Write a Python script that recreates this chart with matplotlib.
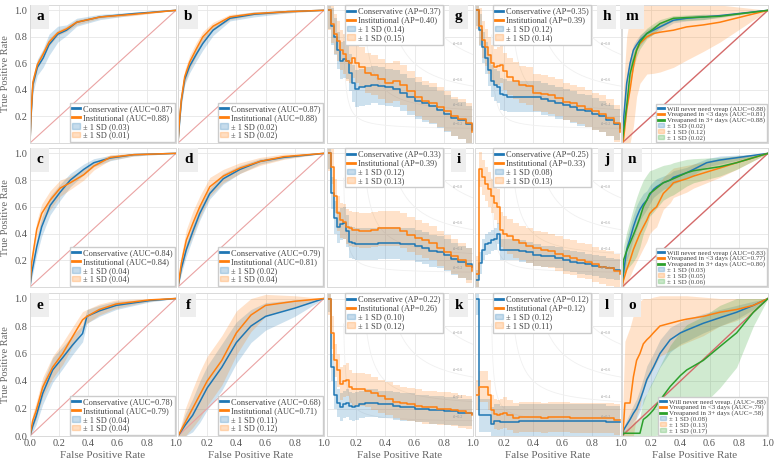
import numpy as np
import matplotlib.pyplot as plt
from matplotlib.lines import Line2D
from matplotlib.patches import Patch

plt.rcParams['font.family'] = ['Liberation Serif', 'DejaVu Serif']

BLUE = '#1f77b4'
ORANGE = '#ff7f0e'
GREEN = '#2ca02c'

# ---------- ROC panels a-f (two models) ----------
fpr_a = [0, 0.007, 0.02, 0.05, 0.09, 0.13, 0.19, 0.25, 0.32, 0.48, 0.71, 1.0]
cons_a = [0, 0.20, 0.44, 0.57, 0.64, 0.74, 0.82, 0.85, 0.91, 0.95, 0.975, 1.0]
inst_a = [0, 0.22, 0.46, 0.59, 0.67, 0.76, 0.83, 0.86, 0.91, 0.95, 0.97, 1.0]
cons_sd_a = [0, 0.04, 0.06, 0.06, 0.07, 0.08, 0.06, 0.04, 0.03, 0.02, 0.01, 0]
inst_sd_a = [0, 0.03, 0.04, 0.03, 0.03, 0.03, 0.02, 0.02, 0.02, 0.01, 0.01, 0]

fpr_b = [0, 0.01, 0.023, 0.046, 0.08, 0.126, 0.17, 0.24, 0.356, 0.52, 0.75, 1.0]
cons_b = [0, 0.15, 0.32, 0.48, 0.58, 0.67, 0.75, 0.85, 0.94, 0.97, 0.99, 1.0]
inst_b = [0, 0.17, 0.33, 0.50, 0.61, 0.71, 0.80, 0.88, 0.95, 0.975, 0.99, 1.0]
cons_sd_b = [0, 0.03, 0.04, 0.04, 0.05, 0.05, 0.05, 0.04, 0.02, 0.02, 0.01, 0]
inst_sd_b = [0, 0.03, 0.04, 0.05, 0.05, 0.05, 0.04, 0.03, 0.02, 0.01, 0.01, 0]

fpr_c = [0, 0.011, 0.046, 0.08, 0.138, 0.207, 0.276, 0.368, 0.437, 0.55, 0.71, 1.0]
cons_c = [0, 0.10, 0.30, 0.45, 0.61, 0.71, 0.80, 0.88, 0.93, 0.965, 0.99, 1.0]
inst_c = [0, 0.18, 0.43, 0.55, 0.65, 0.74, 0.78, 0.84, 0.905, 0.97, 0.99, 1.0]
cons_sd_c = [0, 0.04, 0.06, 0.07, 0.07, 0.06, 0.05, 0.04, 0.03, 0.02, 0.01, 0]
inst_sd_c = [0, 0.05, 0.06, 0.07, 0.07, 0.06, 0.05, 0.04, 0.03, 0.02, 0.01, 0]

fpr_d = [0, 0.023, 0.057, 0.103, 0.149, 0.218, 0.31, 0.425, 0.563, 0.724, 1.0]
cons_d = [0, 0.14, 0.28, 0.42, 0.55, 0.70, 0.81, 0.88, 0.94, 0.97, 1.0]
inst_d = [0, 0.18, 0.35, 0.48, 0.60, 0.75, 0.83, 0.89, 0.94, 0.975, 1.0]
cons_sd_d = [0, 0.04, 0.05, 0.05, 0.05, 0.04, 0.04, 0.03, 0.02, 0.01, 0]
inst_sd_d = [0, 0.06, 0.08, 0.09, 0.08, 0.07, 0.05, 0.04, 0.03, 0.02, 0]

fpr_e = [0, 0.018, 0.041, 0.087, 0.155, 0.224, 0.29, 0.36, 0.39, 0.475, 0.59, 0.82, 1.0]
cons_e = [0, 0.07, 0.14, 0.31, 0.48, 0.57, 0.66, 0.745, 0.87, 0.91, 0.95, 0.985, 1.0]
inst_e = [0, 0.11, 0.18, 0.355, 0.50, 0.60, 0.72, 0.845, 0.87, 0.92, 0.96, 0.99, 1.0]
cons_sd_e = [0, 0.04, 0.06, 0.08, 0.09, 0.08, 0.07, 0.06, 0.05, 0.04, 0.03, 0.01, 0]
inst_sd_e = [0, 0.05, 0.06, 0.07, 0.08, 0.08, 0.07, 0.06, 0.05, 0.04, 0.03, 0.01, 0]

fpr_f = [0, 0.05, 0.10, 0.15, 0.20, 0.30, 0.40, 0.50, 0.60, 0.80, 1.0]
cons_f = [0, 0.08, 0.15, 0.25, 0.35, 0.50, 0.68, 0.80, 0.87, 0.93, 1.0]
inst_f = [0, 0.10, 0.20, 0.30, 0.40, 0.55, 0.75, 0.88, 0.95, 0.98, 1.0]
cons_sd_f = [0, 0.08, 0.12, 0.15, 0.16, 0.17, 0.15, 0.12, 0.10, 0.06, 0]
inst_sd_f = [0, 0.10, 0.14, 0.17, 0.18, 0.18, 0.16, 0.12, 0.08, 0.04, 0]

roc_auc = {'a': (0.87, 0.88), 'b': (0.87, 0.88), 'c': (0.84, 0.84),
           'd': (0.79, 0.81), 'e': (0.78, 0.79), 'f': (0.68, 0.71)}
roc_sd = {'a': (0.03, 0.01), 'b': (0.02, 0.02), 'c': (0.04, 0.04),
          'd': (0.02, 0.04), 'e': (0.04, 0.04), 'f': (0.11, 0.12)}

# ---------- precision-recall style panels g-l ----------
pr_x = [0.01, 0.03, 0.05, 0.07, 0.09, 0.11, 0.13, 0.15, 0.17, 0.19, 0.22, 0.26, 0.30, 0.35,
        0.40, 0.45, 0.50, 0.55, 0.60, 0.65, 0.70, 0.75, 0.80, 0.85, 0.90, 0.95, 0.99]

cons_g = [1.0, 0.88, 0.80, 0.70, 0.62, 0.63, 0.62, 0.53, 0.45, 0.41, 0.42, 0.43, 0.44, 0.43,
          0.42, 0.41, 0.38, 0.35, 0.32, 0.30, 0.28, 0.25, 0.22, 0.19, 0.17, 0.14, 0.10]
inst_g = [1.0, 0.90, 0.82, 0.77, 0.70, 0.67, 0.62, 0.60, 0.64, 0.60, 0.57, 0.53, 0.51, 0.48,
          0.45, 0.47, 0.44, 0.39, 0.35, 0.32, 0.30, 0.27, 0.24, 0.20, 0.18, 0.15, 0.08]

cons_h = [1.0, 0.85, 0.72, 0.64, 0.55, 0.47, 0.44, 0.42, 0.37, 0.36, 0.35, 0.35, 0.35, 0.35,
          0.35, 0.33, 0.32, 0.30, 0.29, 0.27, 0.25, 0.24, 0.22, 0.20, 0.17, 0.14, 0.11]
inst_h = [1.0, 0.88, 0.78, 0.72, 0.66, 0.60, 0.57, 0.58, 0.59, 0.54, 0.50, 0.47, 0.44, 0.43,
          0.38, 0.37, 0.36, 0.34, 0.31, 0.30, 0.28, 0.26, 0.24, 0.22, 0.19, 0.15, 0.08]

cons_i = [1.0, 0.70, 0.52, 0.45, 0.47, 0.48, 0.42, 0.34, 0.33, 0.32, 0.32, 0.32, 0.32, 0.33,
          0.33, 0.33, 0.32, 0.32, 0.31, 0.29, 0.27, 0.26, 0.24, 0.21, 0.19, 0.17, 0.15]
inst_i = [1.0, 0.90, 0.68, 0.55, 0.50, 0.49, 0.45, 0.44, 0.43, 0.43, 0.42, 0.42, 0.43, 0.44,
          0.44, 0.44, 0.42, 0.39, 0.37, 0.35, 0.33, 0.29, 0.26, 0.23, 0.20, 0.16, 0.12]

cons_j = [0.05, 0.18, 0.28, 0.32, 0.33, 0.35, 0.36, 0.40, 0.28, 0.28, 0.28, 0.28, 0.27, 0.26,
          0.24, 0.23, 0.23, 0.22, 0.20, 0.19, 0.18, 0.17, 0.16, 0.15, 0.14, 0.13, 0.12]
inst_j = [0.10, 0.88, 0.82, 0.77, 0.73, 0.68, 0.63, 0.60, 0.43, 0.40, 0.38, 0.35, 0.33, 0.31,
          0.29, 0.28, 0.27, 0.25, 0.23, 0.22, 0.20, 0.19, 0.17, 0.15, 0.14, 0.12, 0.10]

cons_k = [1.0, 0.50, 0.30, 0.24, 0.21, 0.23, 0.24, 0.22, 0.21, 0.22, 0.23, 0.24, 0.24, 0.23,
          0.23, 0.22, 0.21, 0.21, 0.20, 0.20, 0.19, 0.19, 0.18, 0.18, 0.17, 0.17, 0.16]
inst_k = [1.0, 0.75, 0.55, 0.48, 0.38, 0.40, 0.41, 0.36, 0.34, 0.34, 0.34, 0.33, 0.31, 0.29,
          0.27, 0.25, 0.24, 0.23, 0.22, 0.21, 0.21, 0.20, 0.20, 0.19, 0.18, 0.17, 0.15]

cons_l = [1.0, 0.15, 0.15, 0.15, 0.15, 0.09, 0.11, 0.11, 0.10, 0.10, 0.10, 0.10, 0.11, 0.11,
          0.11, 0.11, 0.11, 0.11, 0.11, 0.11, 0.11, 0.11, 0.11, 0.11, 0.10, 0.10, 0.10]
inst_l = [0.30, 0.36, 0.36, 0.36, 0.30, 0.19, 0.16, 0.15, 0.16, 0.17, 0.15, 0.13, 0.14, 0.14,
          0.14, 0.13, 0.14, 0.14, 0.14, 0.13, 0.13, 0.13, 0.13, 0.13, 0.13, 0.12, 0.12]

pr_ap = {'g': (0.37, 0.40), 'h': (0.35, 0.39), 'i': (0.33, 0.39),
         'j': (0.25, 0.33), 'k': (0.22, 0.26), 'l': (0.12, 0.12)}
pr_sd = {'g': (0.14, 0.15), 'h': (0.12, 0.14), 'i': (0.12, 0.13),
         'j': (0.08, 0.13), 'k': (0.10, 0.12), 'l': (0.12, 0.11)}
iso_f1 = [0.2, 0.4, 0.6, 0.8]

# ---------- three-class ROC panels m-o ----------
fpr_m = [0, 0.01, 0.032, 0.055, 0.078, 0.10, 0.123, 0.17, 0.215, 0.26, 0.352, 0.443, 0.557, 0.67, 1.0]
never_m = [0, 0.17, 0.45, 0.60, 0.70, 0.74, 0.775, 0.825, 0.85, 0.875, 0.925, 0.94, 0.95, 0.96, 1.0]
early_m = [0, 0.02, 0.25, 0.40, 0.575, 0.70, 0.75, 0.80, 0.825, 0.835, 0.85, 0.875, 0.89, 0.91, 1.0]
late_m = [0, 0.08, 0.28, 0.52, 0.62, 0.70, 0.76, 0.825, 0.86, 0.90, 0.94, 0.945, 0.95, 0.955, 1.0]
never_sd_m = [0, 0.03, 0.04, 0.04, 0.04, 0.04, 0.04, 0.03, 0.03, 0.03, 0.02, 0.02, 0.02, 0.01, 0]
early_sd_m = [0, 0.40, 0.55, 0.55, 0.45, 0.35, 0.30, 0.28, 0.30, 0.30, 0.28, 0.25, 0.20, 0.15, 0]
late_sd_m = [0, 0.04, 0.06, 0.07, 0.06, 0.05, 0.05, 0.04, 0.04, 0.03, 0.02, 0.02, 0.02, 0.01, 0]

fpr_n = [0, 0.01, 0.032, 0.055, 0.078, 0.10, 0.123, 0.146, 0.17, 0.19, 0.215, 0.237, 0.283,
         0.33, 0.352, 0.443, 0.49, 0.58, 0.67, 0.785, 1.0]
never_n = [0, 0.10, 0.28, 0.36, 0.45, 0.52, 0.58, 0.62, 0.65, 0.69, 0.73, 0.75, 0.78,
           0.80, 0.82, 0.855, 0.88, 0.93, 0.95, 0.967, 1.0]
early_n = [0, 0.05, 0.13, 0.20, 0.28, 0.34, 0.40, 0.45, 0.50, 0.55, 0.58, 0.60, 0.70,
           0.75, 0.78, 0.81, 0.83, 0.86, 0.89, 0.93, 1.0]
late_n = [0, 0.20, 0.27, 0.33, 0.39, 0.45, 0.52, 0.60, 0.65, 0.70, 0.72, 0.74, 0.78,
          0.80, 0.81, 0.855, 0.87, 0.885, 0.90, 0.93, 1.0]
never_sd_n = [0, 0.05, 0.08, 0.09, 0.09, 0.09, 0.08, 0.08, 0.07, 0.07, 0.06, 0.06, 0.05,
              0.05, 0.05, 0.04, 0.04, 0.03, 0.03, 0.02, 0]
early_sd_n = [0, 0.05, 0.10, 0.12, 0.14, 0.15, 0.16, 0.16, 0.16, 0.15, 0.15, 0.15, 0.12,
              0.12, 0.11, 0.10, 0.09, 0.08, 0.07, 0.05, 0]
late_sd_n = [0, 0.10, 0.14, 0.17, 0.20, 0.22, 0.22, 0.20, 0.19, 0.17, 0.16, 0.15, 0.13,
             0.12, 0.12, 0.10, 0.09, 0.08, 0.07, 0.05, 0]

fpr_o = [0, 0.01, 0.02, 0.055, 0.078, 0.10, 0.123, 0.146, 0.17, 0.19, 0.215, 0.26, 0.33, 0.40,
         0.443, 0.557, 0.67, 0.785, 0.90, 1.0]
never_o = [0, 0.04, 0.06, 0.12, 0.165, 0.20, 0.26, 0.33, 0.41, 0.45, 0.50, 0.60, 0.70, 0.75,
           0.77, 0.82, 0.86, 0.90, 0.95, 1.0]
early_o = [0, 0.07, 0.24, 0.24, 0.43, 0.55, 0.60, 0.67, 0.70, 0.72, 0.75, 0.80, 0.82, 0.84,
           0.85, 0.87, 0.90, 0.92, 0.95, 1.0]
late_o = [0, 0.02, 0.02, 0.02, 0.02, 0.02, 0.02, 0.12, 0.14, 0.16, 0.19, 0.26, 0.36, 0.44,
          0.48, 0.55, 0.65, 0.75, 0.90, 1.0]
never_sd_o = [0, 0.02, 0.03, 0.05, 0.06, 0.07, 0.08, 0.09, 0.10, 0.10, 0.10, 0.10, 0.09, 0.08,
              0.08, 0.07, 0.06, 0.05, 0.03, 0]
early_sd_o = [0, 0.30, 0.45, 0.55, 0.45, 0.40, 0.38, 0.33, 0.30, 0.28, 0.26, 0.22, 0.20, 0.18,
              0.17, 0.14, 0.10, 0.08, 0.05, 0]
late_sd_o = [0, 0.02, 0.02, 0.05, 0.08, 0.10, 0.12, 0.15, 0.17, 0.20, 0.22, 0.25, 0.30, 0.32,
             0.33, 0.32, 0.30, 0.25, 0.10, 0]

multi_names = {
    'm': ['Will never need vreap (AUC=0.88)', 'Vreapaned in <3 days (AUC=0.81)',
          'Vreapaned in 3+ days (AUC=0.88)'],
    'n': ['Will never need vreap (AUC=0.83)', 'Vreapaned in <3 days (AUC=0.77)',
          'Vreapaned in 3+ days (AUC=0.80)'],
    'o': ['Will never need vreap. (AUC=.88)', 'Vreapaned in <3 days (AUC=.79)',
          'Vreapaned in 3+ days (AUC=.58)'],
}
multi_sd = {'m': (0.02, 0.12, 0.02), 'n': (0.03, 0.05, 0.06), 'o': (0.08, 0.13, 0.17)}

# ---------- layout (pixel positions in a 780x459 figure) ----------
W, H = 780, 459
col_left = [30, 178, 327, 475, 622]
col_w = 146
rows = [(5, 143), (148, 287), (293, 436)]
YTOP = 1.04

fig = plt.figure(figsize=(W / 100, H / 100), dpi=100)
fig.patch.set_facecolor('white')


def make_ax(r, c):
    top, bot = rows[r]
    ax = fig.add_axes([col_left[c] / W, 1 - bot / H, col_w / W, (bot - top) / H])
    ax.set_xlim(0, 1)
    ax.set_ylim(0, YTOP)
    ax.set_xticks([0, 0.2, 0.4, 0.6, 0.8, 1.0])
    ax.set_yticks([0, 0.2, 0.4, 0.6, 0.8, 1.0])
    ax.grid(True, color='#e6e6e6', lw=0.6)
    ax.set_axisbelow(True)
    for s in ax.spines.values():
        s.set_color('#d9d9d9')
        s.set_linewidth(0.7)
    ax.tick_params(length=0, labelsize=7.5, colors='#555555', pad=2)
    if c == 0:
        if r < 2:
            ax.set_yticklabels(['', '0.2', '0.4', '0.6', '0.8', '1.0'])
        else:
            ax.set_yticklabels(['0.0', '0.2', '0.4', '0.6', '0.8', '1.0'])
        ax.set_ylabel('True Positive Rate', fontsize=7.5, color='#666666', labelpad=3)
    else:
        ax.set_yticklabels([])
    if r == 2:
        if c == 0:
            ax.set_xticklabels(['0.0', '0.2', '0.4', '0.6', '0.8', '1.0'])
        else:
            ax.set_xticklabels(['', '0.2', '0.4', '0.6', '0.8', '1.0'])
        ax.set_xlabel('False Positive Rate', fontsize=8, color='#666666', labelpad=2)
    else:
        ax.set_xticklabels([])
    return ax


def band(ax, x, y, sd, color, step=None):
    y = np.asarray(y)
    sd = np.asarray(sd)
    lo = np.clip(y - sd, 0, YTOP)
    hi = np.clip(y + sd, 0, YTOP)
    ax.fill_between(x, lo, hi, color=color, alpha=0.22, lw=0, step=step)


def letter(ax, s, x, ha):
    ax.text(x, 0.915, s, transform=ax.transAxes, fontsize=11, fontweight='bold',
            ha=ha, va='center', color='black', zorder=6,
            bbox=dict(boxstyle='square,pad=0.35', fc='#eeeeee', ec='none'))


def style_legend(leg):
    for t in leg.get_texts():
        t.set_color('#444444')


def roc_panel(ax, key, x, cons, inst, cons_sd, inst_sd):
    ax.plot([0, 1], [0, 1], color='#eaa3a3', lw=0.8)
    band(ax, x, cons, cons_sd, BLUE)
    band(ax, x, inst, inst_sd, ORANGE)
    ax.plot(x, cons, color=BLUE, lw=1.1)
    ax.plot(x, inst, color=ORANGE, lw=1.1)
    a1, a2 = roc_auc[key]
    s1, s2 = roc_sd[key]
    handles = [Line2D([], [], color=BLUE, lw=2), Line2D([], [], color=ORANGE, lw=2),
               Patch(color=BLUE, alpha=0.25), Patch(color=ORANGE, alpha=0.25)]
    labels = ['Conservative (AUC=%.2f)' % a1, 'Institutional (AUC=%.2f)' % a2,
              '± 1 SD (%.2f)' % s1, '± 1 SD (%.2f)' % s2]
    leg = ax.legend(handles, labels, loc='lower right', fontsize=6.0, handlelength=0.9,
                    handleheight=0.6, handletextpad=0.4, labelspacing=0.1, borderpad=0.3,
                    borderaxespad=0.1, fancybox=False, framealpha=1, edgecolor='#cccccc')
    style_legend(leg)
    letter(ax, key, 0.07, 'center')


def pr_panel(ax, key, cons, inst):
    for f in iso_f1:
        xs = np.linspace(f / 2 + 0.005, 1, 200)
        ys = f * xs / (2 * xs - f)
        ok = ys <= YTOP
        ax.plot(xs[ok], ys[ok], color='#f0f0f0', lw=0.6, zorder=1)
        ax.text(0.9, f * 0.9 / (1.8 - f) + 0.02, 'f1=%.1f' % f, fontsize=2.8,
                color='#999999', ha='center')
    s1, s2 = pr_sd[key]
    band(ax, pr_x, cons, s1, BLUE, step='post')
    band(ax, pr_x, inst, s2, ORANGE, step='post')
    ax.plot(pr_x, cons, color=BLUE, lw=1.1, drawstyle='steps-post')
    ax.plot(pr_x, inst, color=ORANGE, lw=1.1, drawstyle='steps-post')
    a1, a2 = pr_ap[key]
    handles = [Line2D([], [], color=BLUE, lw=2), Line2D([], [], color=ORANGE, lw=2),
               Patch(color=BLUE, alpha=0.25), Patch(color=ORANGE, alpha=0.25)]
    labels = ['Conservative (AP=%.2f)' % a1, 'Institutional (AP=%.2f)' % a2,
              '± 1 SD (%.2f)' % s1, '± 1 SD (%.2f)' % s2]
    leg = ax.legend(handles, labels, loc='upper left', bbox_to_anchor=(0.12, 1.0),
                    fontsize=6.0, handlelength=0.9, handleheight=0.6, handletextpad=0.4,
                    labelspacing=0.1, borderpad=0.3, borderaxespad=0.0, fancybox=False,
                    framealpha=1, edgecolor='#cccccc')
    style_legend(leg)
    letter(ax, key, 0.9, 'center')


def multi_panel(ax, key, x, curves, sds):
    ax.plot([0, 1], [0, 1], color='#d46a6a', lw=1.0)
    colors = [BLUE, ORANGE, GREEN]
    for y, sd, col in zip(curves, sds, colors):
        band(ax, x, y, sd, col)
    for y, col in zip(curves, colors):
        ax.plot(x, y, color=col, lw=1.1)
    handles = [Line2D([], [], color=col, lw=2) for col in colors]
    handles += [Patch(color=col, alpha=0.25) for col in colors]
    labels = multi_names[key] + ['± 1 SD (%.2f)' % s for s in multi_sd[key]]
    leg = ax.legend(handles, labels, loc='lower right', fontsize=5.0, handlelength=0.9,
                    handleheight=0.5, handletextpad=0.4, labelspacing=0.0, borderpad=0.25,
                    borderaxespad=0.1, fancybox=False, framealpha=1, edgecolor='#cccccc')
    style_legend(leg)
    letter(ax, key, 0.07, 'center')


roc_panel(make_ax(0, 0), 'a', fpr_a, cons_a, inst_a, cons_sd_a, inst_sd_a)
roc_panel(make_ax(0, 1), 'b', fpr_b, cons_b, inst_b, cons_sd_b, inst_sd_b)
roc_panel(make_ax(1, 0), 'c', fpr_c, cons_c, inst_c, cons_sd_c, inst_sd_c)
roc_panel(make_ax(1, 1), 'd', fpr_d, cons_d, inst_d, cons_sd_d, inst_sd_d)
roc_panel(make_ax(2, 0), 'e', fpr_e, cons_e, inst_e, cons_sd_e, inst_sd_e)
roc_panel(make_ax(2, 1), 'f', fpr_f, cons_f, inst_f, cons_sd_f, inst_sd_f)

pr_panel(make_ax(0, 2), 'g', cons_g, inst_g)
pr_panel(make_ax(0, 3), 'h', cons_h, inst_h)
pr_panel(make_ax(1, 2), 'i', cons_i, inst_i)
pr_panel(make_ax(1, 3), 'j', cons_j, inst_j)
pr_panel(make_ax(2, 2), 'k', cons_k, inst_k)
pr_panel(make_ax(2, 3), 'l', cons_l, inst_l)

multi_panel(make_ax(0, 4), 'm', fpr_m, [never_m, early_m, late_m],
            [never_sd_m, early_sd_m, late_sd_m])
multi_panel(make_ax(1, 4), 'n', fpr_n, [never_n, early_n, late_n],
            [never_sd_n, early_sd_n, late_sd_n])
multi_panel(make_ax(2, 4), 'o', fpr_o, [never_o, early_o, late_o],
            [never_sd_o, early_sd_o, late_sd_o])

fig.savefig('out.png', dpi=100, facecolor='white')
